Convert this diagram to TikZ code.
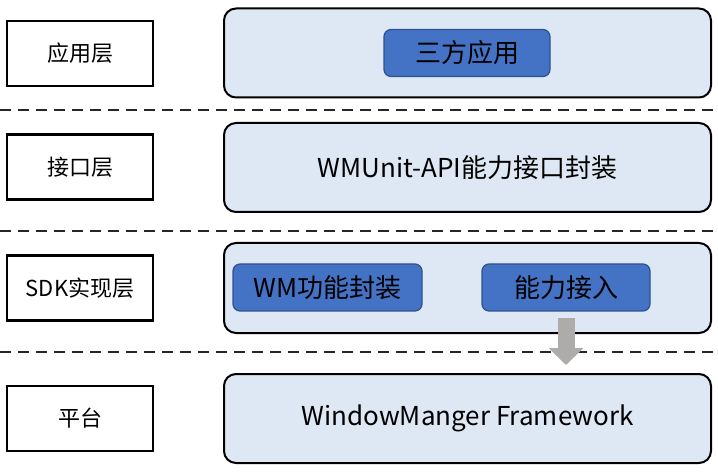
\documentclass[tikz,border=0pt]{standalone}
\usepackage{fontspec}
\setmainfont{Noto Sans CJK SC}
\usetikzlibrary{arrows.meta}
\definecolor{layerfill}{HTML}{DEE8F4}
\definecolor{modfill}{HTML}{4472C4}
\definecolor{moddraw}{HTML}{2F528F}
\definecolor{pfeil}{HTML}{AEABAB}

\begin{document}
\begin{tikzpicture}[x=1pt,y=-1pt,
labelbox/.style={rectangle,draw=black,line width=2.2pt,minimum width=146pt,minimum height=65pt,
  inner sep=0pt,font=\fontsize{22}{26}\selectfont},
layerbox/.style={rectangle,rounded corners=12pt,draw=black,line width=2pt,fill=layerfill,
  minimum width=487pt,minimum height=89pt,inner sep=0pt,font=\fontsize{26}{30}\selectfont},
module/.style={rectangle,rounded corners=7pt,draw=moddraw,line width=1.2pt,fill=modfill,
  minimum height=47pt,inner sep=0pt,font=\fontsize{26}{30}\selectfont},
separator/.style={dash pattern=on 11pt off 7pt,line width=2pt,draw=black!85}
]

\useasboundingbox (0,0) rectangle (718,473);

% layer names
\node[labelbox](app-label) at (80,53.5){应用层};
\node[labelbox](api-label) at (80,167){接口层};
\node[labelbox](sdk-label) at (80,288){SDK实现层};
\node[labelbox](platform-label) at (80,418.5){平台};

% layers
\node[layerbox](app-layer) at (467.5,53){};
\node[layerbox](api-layer) at (467.5,167.5){WMUnit-API能力接口封装};
\node[layerbox,minimum height=90pt](sdk-layer) at (467.5,288){};
\node[layerbox](platform-layer) at (467.5,418.5){WindowManger Framework};

% modules
\node[module,minimum width=166pt](third-party) at (467,53){三方应用};
\node[module,minimum width=189pt](wm-wrap) at (327.5,287.5){WM功能封装};
\node[module,minimum width=168pt](ability) at (566,287.5){能力接入};

% separators
\draw[separator] (0,110)--(718,110);
\draw[separator] (0,231)--(718,231);
\draw[separator] (0,352)--(718,352);

\coordinate (arrow-start) at ([yshift=-6pt]ability.south);
\coordinate (arrow-end) at (566,365);
\draw[line width=17pt,draw=pfeil,-{Triangle[length=17pt,width=34pt]}] (arrow-start)--(arrow-end);

\end{tikzpicture}
\end{document}
